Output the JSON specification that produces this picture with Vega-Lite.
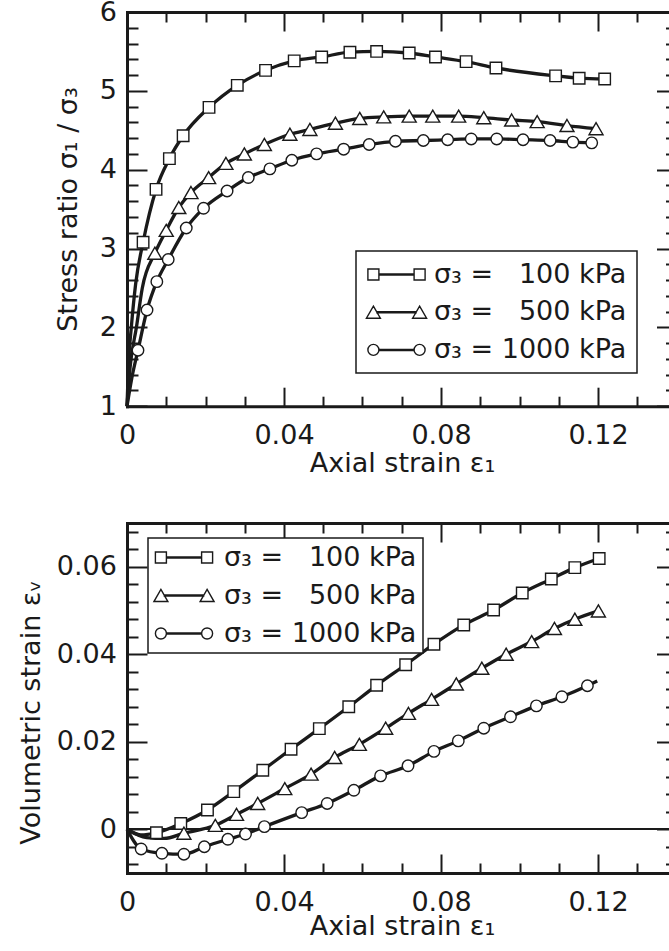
{
  "$schema": "https://vega.github.io/schema/vega-lite/v6.json",
  "background": "white",
  "padding": {"left": 17, "top": -2, "right": 0, "bottom": 0},
  "spacing": 40,
  "config": {
    "font": "DejaVu Sans",
    "view": {"stroke": null},
    "axis": {
      "domainColor": "#1a1a1a", "domainWidth": 3, "domainCap": "square",
      "tickColor": "#1a1a1a", "tickWidth": 2,
      "labelColor": "#1a1a1a", "labelFont": "DejaVu Sans", "labelFontSize": 27,
      "titleFont": "DejaVu Sans", "titleFontSize": 27, "titleFontWeight": "normal", "titleColor": "#1a1a1a",
      "grid": false, "labelFlush": false, "labelOverlap": false, "labelBound": false
    },
    "legend": {"strokeWidth": 1.5, "labelLimit": 400},
    "point": {"filled": true, "fill": "white", "stroke": "#1a1a1a", "strokeWidth": 1.4, "opacity": 1, "fillOpacity": 1, "size": 132}
  },
  "resolve": {"scale": {"shape": "independent"}, "legend": {"shape": "independent"}},
  "datasets": {
    "stress": [
      {"s": "100", "x": 0, "y": 1, "m": 0},
      {"s": "100", "x": 0.0004, "y": 1.55, "m": 0},
      {"s": "100", "x": 0.0011, "y": 2.0, "m": 0},
      {"s": "100", "x": 0.0022, "y": 2.55, "m": 0},
      {"s": "100", "x": 0.0041, "y": 3.08, "m": 1},
      {"s": "100", "x": 0.0074, "y": 3.75, "m": 1},
      {"s": "100", "x": 0.0108, "y": 4.14, "m": 1},
      {"s": "100", "x": 0.0143, "y": 4.43, "m": 1},
      {"s": "100", "x": 0.0209, "y": 4.79, "m": 1},
      {"s": "100", "x": 0.0281, "y": 5.07, "m": 1},
      {"s": "100", "x": 0.0353, "y": 5.26, "m": 1},
      {"s": "100", "x": 0.0426, "y": 5.38, "m": 1},
      {"s": "100", "x": 0.0496, "y": 5.43, "m": 1},
      {"s": "100", "x": 0.0568, "y": 5.49, "m": 1},
      {"s": "100", "x": 0.0636, "y": 5.50, "m": 1},
      {"s": "100", "x": 0.0719, "y": 5.48, "m": 1},
      {"s": "100", "x": 0.0786, "y": 5.43, "m": 1},
      {"s": "100", "x": 0.0864, "y": 5.37, "m": 1},
      {"s": "100", "x": 0.0940, "y": 5.29, "m": 1},
      {"s": "100", "x": 0.1092, "y": 5.19, "m": 1},
      {"s": "100", "x": 0.1152, "y": 5.16, "m": 1},
      {"s": "100", "x": 0.1217, "y": 5.15, "m": 1},
      {"s": "500", "x": 0, "y": 1, "m": 0},
      {"s": "500", "x": 0.0008, "y": 1.5, "m": 0},
      {"s": "500", "x": 0.0024, "y": 2.0, "m": 0},
      {"s": "500", "x": 0.0039, "y": 2.5, "m": 0},
      {"s": "500", "x": 0.0071, "y": 2.94, "m": 1},
      {"s": "500", "x": 0.0100, "y": 3.23, "m": 1},
      {"s": "500", "x": 0.0132, "y": 3.52, "m": 1},
      {"s": "500", "x": 0.0163, "y": 3.71, "m": 1},
      {"s": "500", "x": 0.0208, "y": 3.90, "m": 1},
      {"s": "500", "x": 0.0252, "y": 4.08, "m": 1},
      {"s": "500", "x": 0.0299, "y": 4.20, "m": 1},
      {"s": "500", "x": 0.0350, "y": 4.32, "m": 1},
      {"s": "500", "x": 0.0415, "y": 4.45, "m": 1},
      {"s": "500", "x": 0.0466, "y": 4.51, "m": 1},
      {"s": "500", "x": 0.0531, "y": 4.59, "m": 1},
      {"s": "500", "x": 0.0593, "y": 4.65, "m": 1},
      {"s": "500", "x": 0.0654, "y": 4.67, "m": 1},
      {"s": "500", "x": 0.0719, "y": 4.68, "m": 1},
      {"s": "500", "x": 0.0779, "y": 4.68, "m": 1},
      {"s": "500", "x": 0.0845, "y": 4.68, "m": 1},
      {"s": "500", "x": 0.0909, "y": 4.66, "m": 1},
      {"s": "500", "x": 0.0980, "y": 4.63, "m": 1},
      {"s": "500", "x": 0.1045, "y": 4.61, "m": 1},
      {"s": "500", "x": 0.1121, "y": 4.56, "m": 1},
      {"s": "500", "x": 0.1195, "y": 4.52, "m": 1},
      {"s": "1000", "x": 0, "y": 1, "m": 0},
      {"s": "1000", "x": 0.0012, "y": 1.35, "m": 0},
      {"s": "1000", "x": 0.0028, "y": 1.71, "m": 1},
      {"s": "1000", "x": 0.0051, "y": 2.22, "m": 1},
      {"s": "1000", "x": 0.0076, "y": 2.58, "m": 1},
      {"s": "1000", "x": 0.0105, "y": 2.86, "m": 1},
      {"s": "1000", "x": 0.0151, "y": 3.26, "m": 1},
      {"s": "1000", "x": 0.0195, "y": 3.51, "m": 1},
      {"s": "1000", "x": 0.0255, "y": 3.73, "m": 1},
      {"s": "1000", "x": 0.0309, "y": 3.90, "m": 1},
      {"s": "1000", "x": 0.0364, "y": 4.01, "m": 1},
      {"s": "1000", "x": 0.0420, "y": 4.12, "m": 1},
      {"s": "1000", "x": 0.0483, "y": 4.20, "m": 1},
      {"s": "1000", "x": 0.0552, "y": 4.26, "m": 1},
      {"s": "1000", "x": 0.0617, "y": 4.32, "m": 1},
      {"s": "1000", "x": 0.0684, "y": 4.36, "m": 1},
      {"s": "1000", "x": 0.0755, "y": 4.37, "m": 1},
      {"s": "1000", "x": 0.0817, "y": 4.38, "m": 1},
      {"s": "1000", "x": 0.0877, "y": 4.39, "m": 1},
      {"s": "1000", "x": 0.0942, "y": 4.39, "m": 1},
      {"s": "1000", "x": 0.1009, "y": 4.38, "m": 1},
      {"s": "1000", "x": 0.1078, "y": 4.37, "m": 1},
      {"s": "1000", "x": 0.1136, "y": 4.35, "m": 1},
      {"s": "1000", "x": 0.1184, "y": 4.34, "m": 1}
    ],
    "vol": [
      {"s": "100", "x": 0, "y": 0, "m": 0},
      {"s": "100", "x": 0.0035, "y": -0.0013, "m": 0},
      {"s": "100", "x": 0.0075, "y": -0.0008, "m": 1},
      {"s": "100", "x": 0.0137, "y": 0.0013, "m": 1},
      {"s": "100", "x": 0.0205, "y": 0.0044, "m": 1},
      {"s": "100", "x": 0.0272, "y": 0.0086, "m": 1},
      {"s": "100", "x": 0.0346, "y": 0.0135, "m": 1},
      {"s": "100", "x": 0.0418, "y": 0.0183, "m": 1},
      {"s": "100", "x": 0.0490, "y": 0.0230, "m": 1},
      {"s": "100", "x": 0.0565, "y": 0.0280, "m": 1},
      {"s": "100", "x": 0.0636, "y": 0.0329, "m": 1},
      {"s": "100", "x": 0.0710, "y": 0.0376, "m": 1},
      {"s": "100", "x": 0.0782, "y": 0.0423, "m": 1},
      {"s": "100", "x": 0.0858, "y": 0.0467, "m": 1},
      {"s": "100", "x": 0.0934, "y": 0.0501, "m": 1},
      {"s": "100", "x": 0.1007, "y": 0.0540, "m": 1},
      {"s": "100", "x": 0.1081, "y": 0.0572, "m": 1},
      {"s": "100", "x": 0.1141, "y": 0.0598, "m": 1},
      {"s": "100", "x": 0.1203, "y": 0.0619, "m": 1},
      {"s": "500", "x": 0, "y": 0, "m": 0},
      {"s": "500", "x": 0.0050, "y": -0.0019, "m": 0},
      {"s": "500", "x": 0.0095, "y": -0.0021, "m": 0},
      {"s": "500", "x": 0.0145, "y": -0.0009, "m": 1},
      {"s": "500", "x": 0.0225, "y": 0.0009, "m": 1},
      {"s": "500", "x": 0.0279, "y": 0.0034, "m": 1},
      {"s": "500", "x": 0.0333, "y": 0.0059, "m": 1},
      {"s": "500", "x": 0.0402, "y": 0.0093, "m": 1},
      {"s": "500", "x": 0.0469, "y": 0.0126, "m": 1},
      {"s": "500", "x": 0.0529, "y": 0.0164, "m": 1},
      {"s": "500", "x": 0.0592, "y": 0.0194, "m": 1},
      {"s": "500", "x": 0.0659, "y": 0.0231, "m": 1},
      {"s": "500", "x": 0.0717, "y": 0.0265, "m": 1},
      {"s": "500", "x": 0.0776, "y": 0.0297, "m": 1},
      {"s": "500", "x": 0.0839, "y": 0.0332, "m": 1},
      {"s": "500", "x": 0.0904, "y": 0.0368, "m": 1},
      {"s": "500", "x": 0.0966, "y": 0.0400, "m": 1},
      {"s": "500", "x": 0.1031, "y": 0.0429, "m": 1},
      {"s": "500", "x": 0.1089, "y": 0.0459, "m": 1},
      {"s": "500", "x": 0.1141, "y": 0.0480, "m": 1},
      {"s": "500", "x": 0.1201, "y": 0.0499, "m": 1},
      {"s": "1000", "x": 0, "y": 0, "m": 0},
      {"s": "1000", "x": 0.0036, "y": -0.0045, "m": 1},
      {"s": "1000", "x": 0.0089, "y": -0.0055, "m": 1},
      {"s": "1000", "x": 0.0145, "y": -0.0057, "m": 1},
      {"s": "1000", "x": 0.0197, "y": -0.0040, "m": 1},
      {"s": "1000", "x": 0.0257, "y": -0.0023, "m": 1},
      {"s": "1000", "x": 0.0302, "y": -0.0011, "m": 1},
      {"s": "1000", "x": 0.0350, "y": 0.0006, "m": 1},
      {"s": "1000", "x": 0.0445, "y": 0.0038, "m": 1},
      {"s": "1000", "x": 0.0510, "y": 0.0059, "m": 1},
      {"s": "1000", "x": 0.0578, "y": 0.0089, "m": 1},
      {"s": "1000", "x": 0.0646, "y": 0.0122, "m": 1},
      {"s": "1000", "x": 0.0716, "y": 0.0145, "m": 1},
      {"s": "1000", "x": 0.0782, "y": 0.0178, "m": 1},
      {"s": "1000", "x": 0.0844, "y": 0.0202, "m": 1},
      {"s": "1000", "x": 0.0909, "y": 0.0231, "m": 1},
      {"s": "1000", "x": 0.0977, "y": 0.0257, "m": 1},
      {"s": "1000", "x": 0.1043, "y": 0.0282, "m": 1},
      {"s": "1000", "x": 0.1108, "y": 0.0303, "m": 1},
      {"s": "1000", "x": 0.1173, "y": 0.0328, "m": 1},
      {"s": "1000", "x": 0.1198, "y": 0.0339, "m": 0}
    ]
  },
  "vconcat": [
    {
      "width": 549.5,
      "height": 394.2,
      "data": {"name": "stress"},
      "layer": [
        {
          "mark": {"type": "line", "interpolate": "monotone", "strokeWidth": 3.3, "color": "#1a1a1a"},
          "encoding": {
            "x": {"field": "x", "type": "quantitative", "scale": {"domain": [0, 0.14], "nice": false, "zero": false},
              "axis": {"orient": "bottom", "title": "Axial strain ε₁", "titleX": 275, "titleY": 44, "titleBaseline": "top",
                "values": [0,0.01,0.02,0.03,0.04,0.05,0.06,0.07,0.08,0.09,0.1,0.11,0.12,0.13,0.14],
                "labelExpr": "indexof([0,0.04,0.08,0.12], datum.value) >= 0 ? (datum.value == 0 ? '0' : format(datum.value, '.2f')) : ''",
                "tickSize": {"condition": {"test": "indexof([0,0.04,0.08,0.12], datum.value) >= 0", "value": -19}, "value": -10},
                "labelPadding": 35}},
            "y": {"field": "y", "type": "quantitative", "scale": {"domain": [1, 6], "nice": false, "zero": false},
              "axis": {"orient": "left", "title": "Stress ratio σ₁ / σ₃", "titleX": -59, "titleY": 197, "titleBaseline": "middle", "titleAngle": -90,
                "values": [1,1.2,1.4,1.6,1.8,2,2.2,2.4,2.6,2.8,3,3.2,3.4,3.6,3.8,4,4.2,4.4,4.6,4.8,5,5.2,5.4,5.6,5.8,6],
                "labelExpr": "datum.value % 1 == 0 ? format(datum.value, 'd') : ''",
                "tickSize": {"condition": {"test": "datum.value % 1 == 0", "value": -20}, "value": -11},
                "labelPadding": 30.6}},
            "detail": {"field": "s"}
          }
        },
        {
          "transform": [{"filter": "datum.m == 1 && datum.s == '100'"}],
          "mark": {"type": "point", "shape": "square"},
          "encoding": {
            "x": {"field": "x", "type": "quantitative",
              "axis": {"orient": "top", "title": null, "labels": false,
                "values": [0,0.01,0.02,0.03,0.04,0.05,0.06,0.07,0.08,0.09,0.1,0.11,0.12,0.13,0.14],
                "tickSize": {"condition": {"test": "indexof([0,0.04,0.08,0.12], datum.value) >= 0", "value": -19}, "value": -10}}},
            "y": {"field": "y", "type": "quantitative",
              "axis": {"orient": "right", "title": null, "labels": false,
                "values": [1,1.2,1.4,1.6,1.8,2,2.2,2.4,2.6,2.8,3,3.2,3.4,3.6,3.8,4,4.2,4.4,4.6,4.8,5,5.2,5.4,5.6,5.8,6],
                "tickSize": {"condition": {"test": "datum.value % 1 == 0", "value": -20}, "value": -11}}}
          }
        },
        {
          "transform": [{"filter": "datum.m == 1 && datum.s == '500'"}],
          "mark": {"type": "point", "shape": "M0,-1.05L1.22,1.05L-1.22,1.05Z"},
          "encoding": {
            "x": {"field": "x", "type": "quantitative", "axis": null},
            "y": {"field": "y", "type": "quantitative", "axis": null}
          }
        },
        {
          "transform": [{"filter": "datum.m == 1 && datum.s == '1000'"}],
          "mark": {"type": "point", "shape": "circle"},
          "encoding": {
            "x": {"field": "x", "type": "quantitative", "axis": null},
            "y": {"field": "y", "type": "quantitative", "axis": null}
          }
        },
        {
          "transform": [{"filter": "datum.m == 9"}],
          "mark": {"type": "point"},
          "encoding": {
            "shape": {"field": "s", "type": "nominal",
              "scale": {"domain": ["100", "500", "1000"], "range": [
                "M-5.2,-1H-3.2V1H-5.2ZM3.2,-1H5.2V1H3.2ZM-3.2,-0.1H3.2V0.1H-3.2Z",
                "M-4.2,-1.1L-2.93,1.1H-5.47ZM4.2,-1.1L5.47,1.1H2.93ZM-3.57,-0.1H3.57V0.1H-3.57Z",
                "M-5.2,0A1,1,0,1,1,-3.2,0A1,1,0,1,1,-5.2,0ZM3.2,0A1,1,0,1,1,5.2,0A1,1,0,1,1,3.2,0ZM-3.2,-0.1H3.2V0.1H-3.2Z"]},
              "legend": {"orient": "none", "legendX": 229, "legendY": 239, "title": null, "direction": "vertical",
                "labelExpr": "datum.value == '1000' ? 'σ₃ = 1000 kPa' : 'σ₃ = \u2007' + datum.value + ' kPa'",
                "labelFont": "DejaVu Sans", "labelFontSize": 27, "labelColor": "#1a1a1a",
                "symbolSize": 121, "symbolOffset": 17, "labelOffset": 24,
                "strokeColor": "#1a1a1a", "fillColor": "white", "padding": 10, "rowPadding": 9.7,
                "encode": {"symbols": {"update": {
                  "fill": {"value": "white"}, "stroke": {"value": "#1a1a1a"}, "strokeWidth": {"value": 1.4},
                  "size": {"value": 121}, "opacity": {"value": 1}, "fillOpacity": {"value": 1}}}}}}
          }
        }
      ]
    },
    {
      "width": 549.5,
      "height": 350,
      "data": {"name": "vol"},
      "layer": [
        {
          "mark": {"type": "rule", "strokeWidth": 1.5, "color": "#1a1a1a"},
          "encoding": {"y": {"datum": 0, "type": "quantitative", "axis": null}}
        },
        {
          "mark": {"type": "line", "interpolate": "monotone", "strokeWidth": 3.3, "color": "#1a1a1a"},
          "encoding": {
            "x": {"field": "x", "type": "quantitative", "scale": {"domain": [0, 0.14], "nice": false, "zero": false},
              "axis": {"orient": "bottom", "title": "Axial strain ε₁", "titleX": 275, "titleY": 40, "titleBaseline": "top",
                "values": [0,0.01,0.02,0.03,0.04,0.05,0.06,0.07,0.08,0.09,0.1,0.11,0.12,0.13,0.14],
                "labelExpr": "indexof([0,0.04,0.08,0.12], datum.value) >= 0 ? (datum.value == 0 ? '0' : format(datum.value, '.2f')) : ''",
                "tickSize": {"condition": {"test": "indexof([0,0.04,0.08,0.12], datum.value) >= 0", "value": -19}, "value": -10},
                "labelPadding": 35}},
            "y": {"field": "y", "type": "quantitative", "scale": {"domain": [-0.01, 0.07], "nice": false, "zero": false},
              "axis": {"orient": "left", "title": "Volumetric strain εᵥ", "titleX": -96, "titleY": 189, "titleBaseline": "middle", "titleAngle": -90,
                "values": [-0.008,-0.004,0,0.004,0.008,0.012,0.016,0.02,0.024,0.028,0.032,0.036,0.04,0.044,0.048,0.052,0.056,0.06,0.064,0.068],
                "labelExpr": "indexof([0,0.02,0.04,0.06], datum.value) >= 0 ? (datum.value == 0 ? '0' : format(datum.value, '.2f')) : ''",
                "tickSize": {"condition": {"test": "indexof([0,0.02,0.04,0.06], datum.value) >= 0", "value": -20}, "value": -11},
                "labelPadding": 30.6}},
            "detail": {"field": "s"}
          }
        },
        {
          "transform": [{"filter": "datum.m == 1 && datum.s == '100'"}],
          "mark": {"type": "point", "shape": "square"},
          "encoding": {
            "x": {"field": "x", "type": "quantitative",
              "axis": {"orient": "top", "title": null, "labels": false,
                "values": [0,0.01,0.02,0.03,0.04,0.05,0.06,0.07,0.08,0.09,0.1,0.11,0.12,0.13,0.14],
                "tickSize": {"condition": {"test": "indexof([0,0.04,0.08,0.12], datum.value) >= 0", "value": -19}, "value": -10}}},
            "y": {"field": "y", "type": "quantitative",
              "axis": {"orient": "right", "title": null, "labels": false,
                "values": [-0.008,-0.004,0,0.004,0.008,0.012,0.016,0.02,0.024,0.028,0.032,0.036,0.04,0.044,0.048,0.052,0.056,0.06,0.064,0.068],
                "tickSize": {"condition": {"test": "indexof([0,0.02,0.04,0.06], datum.value) >= 0", "value": -20}, "value": -11}}}
          }
        },
        {
          "transform": [{"filter": "datum.m == 1 && datum.s == '500'"}],
          "mark": {"type": "point", "shape": "M0,-1.05L1.22,1.05L-1.22,1.05Z"},
          "encoding": {
            "x": {"field": "x", "type": "quantitative", "axis": null},
            "y": {"field": "y", "type": "quantitative", "axis": null}
          }
        },
        {
          "transform": [{"filter": "datum.m == 1 && datum.s == '1000'"}],
          "mark": {"type": "point", "shape": "circle"},
          "encoding": {
            "x": {"field": "x", "type": "quantitative", "axis": null},
            "y": {"field": "y", "type": "quantitative", "axis": null}
          }
        },
        {
          "transform": [{"filter": "datum.m == 9"}],
          "mark": {"type": "point"},
          "encoding": {
            "shape": {"field": "s", "type": "nominal",
              "scale": {"domain": ["100", "500", "1000"], "range": [
                "M-5.2,-1H-3.2V1H-5.2ZM3.2,-1H5.2V1H3.2ZM-3.2,-0.1H3.2V0.1H-3.2Z",
                "M-4.2,-1.1L-2.93,1.1H-5.47ZM4.2,-1.1L5.47,1.1H2.93ZM-3.57,-0.1H3.57V0.1H-3.57Z",
                "M-5.2,0A1,1,0,1,1,-3.2,0A1,1,0,1,1,-5.2,0ZM3.2,0A1,1,0,1,1,5.2,0A1,1,0,1,1,3.2,0ZM-3.2,-0.1H3.2V0.1H-3.2Z"]},
              "legend": {"orient": "none", "legendX": 21, "legendY": 15, "title": null, "direction": "vertical",
                "labelExpr": "datum.value == '1000' ? 'σ₃ = 1000 kPa' : 'σ₃ = \u2007' + datum.value + ' kPa'",
                "labelFont": "DejaVu Sans", "labelFontSize": 27, "labelColor": "#1a1a1a",
                "symbolSize": 121, "symbolOffset": 16.5, "labelOffset": 26.5,
                "strokeColor": "#1a1a1a", "fillColor": "white", "padding": 6, "rowPadding": 10,
                "encode": {"symbols": {"update": {
                  "fill": {"value": "white"}, "stroke": {"value": "#1a1a1a"}, "strokeWidth": {"value": 1.4},
                  "size": {"value": 121}, "opacity": {"value": 1}, "fillOpacity": {"value": 1}}}}}}
          }
        }
      ]
    }
  ]
}
